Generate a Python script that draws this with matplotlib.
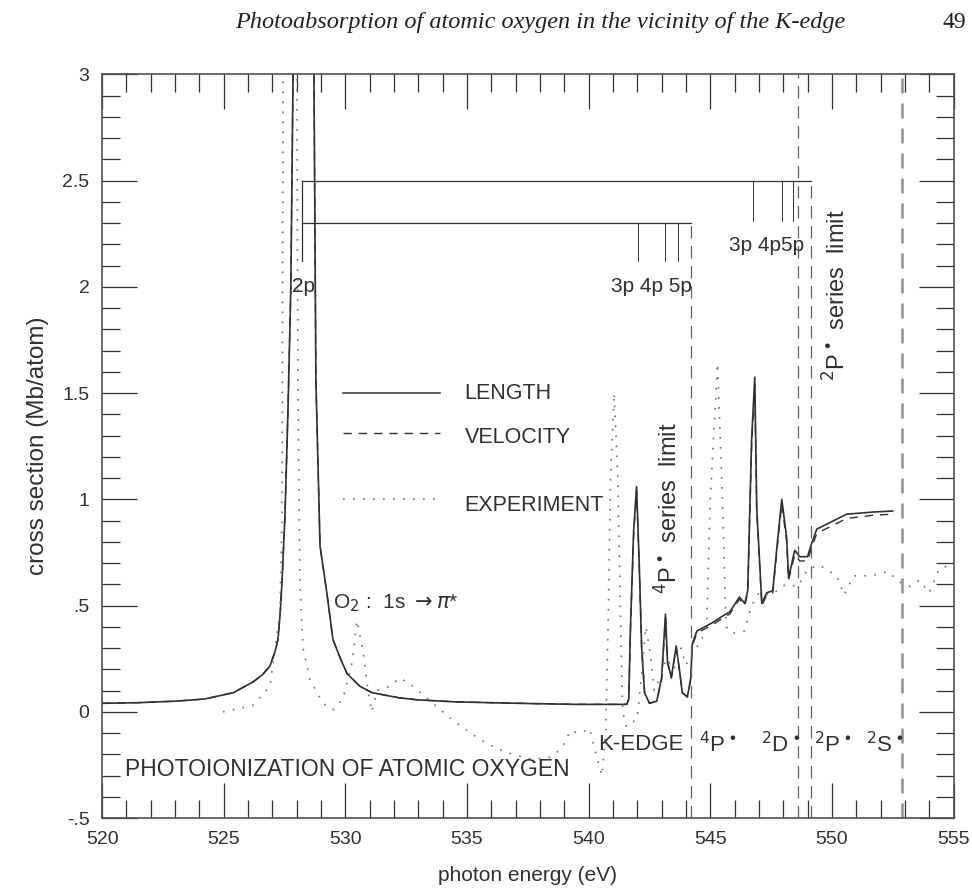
import matplotlib
matplotlib.use('Agg')
import matplotlib.pyplot as plt
from matplotlib.ticker import MultipleLocator

plt.rcParams['font.family'] = ['Liberation Sans', 'DejaVu Sans']
plt.rcParams['mathtext.fontset'] = 'dejavusans'

# theory, length form (energy in eV, cross section in Mb/atom)
length_E = [520.0, 521.5, 523.0, 524.2, 525.4, 526.2, 526.6, 526.9, 527.1, 527.23,
            527.32, 527.40, 527.52, 527.64, 527.76, 527.85, 528.28, 528.71, 528.79,
            528.96, 529.24, 529.49, 529.8, 530.07, 530.6, 531.1, 532.2, 533.0, 534.5,
            536.3, 538.0, 539.5, 541.3, 541.57, 541.65, 541.72, 541.85, 541.97, 542.08,
            542.18, 542.3, 542.5, 542.8, 543.0, 543.16, 543.24, 543.4, 543.6, 543.73,
            543.85, 544.06, 544.2, 544.26, 544.45, 545.1, 545.5, 545.8, 546.2, 546.42,
            546.54, 546.7, 546.83, 546.91, 547.12, 547.32, 547.57, 547.77, 547.94,
            548.14, 548.22, 548.47, 548.68, 549.0, 549.13, 549.38, 549.91, 550.6,
            551.68, 552.5]
length_cs = [0.040, 0.043, 0.050, 0.060, 0.090, 0.140, 0.175, 0.215, 0.280, 0.340,
             0.460, 0.620, 0.930, 1.410, 2.000, 3.000, 9.000, 3.000, 1.560,
             0.780, 0.560, 0.340, 0.250, 0.180, 0.120, 0.090, 0.066, 0.056, 0.047,
             0.042, 0.038, 0.035, 0.035, 0.035, 0.060, 0.400, 0.850, 1.060, 0.700,
             0.300, 0.090, 0.040, 0.050, 0.160, 0.460, 0.240, 0.160, 0.310, 0.200,
             0.090, 0.070, 0.160, 0.320, 0.380, 0.420, 0.450, 0.470, 0.540, 0.510,
             0.570, 1.280, 1.575, 0.960, 0.510, 0.560, 0.570, 0.810, 1.000,
             0.820, 0.630, 0.760, 0.730, 0.730, 0.780, 0.860, 0.890, 0.930,
             0.940, 0.945]

# theory, velocity form
velocity_E = length_E
velocity_cs = [0.040, 0.043, 0.050, 0.060, 0.090, 0.140, 0.175, 0.215, 0.280, 0.340,
               0.460, 0.620, 0.930, 1.410, 2.000, 3.000, 9.000, 3.000, 1.560,
               0.780, 0.560, 0.340, 0.250, 0.180, 0.120, 0.090, 0.066, 0.056, 0.047,
               0.042, 0.038, 0.035, 0.035, 0.035, 0.060, 0.380, 0.830, 1.040, 0.690,
               0.300, 0.090, 0.040, 0.050, 0.150, 0.440, 0.230, 0.160, 0.300, 0.200,
               0.090, 0.070, 0.150, 0.310, 0.370, 0.410, 0.440, 0.460, 0.530, 0.500,
               0.560, 1.250, 1.540, 0.940, 0.500, 0.550, 0.560, 0.790, 0.980,
               0.800, 0.620, 0.740, 0.710, 0.710, 0.760, 0.840, 0.870, 0.910,
               0.925, 0.930]

# experiment
exp_E = [524.97, 526.2, 526.9, 527.31, 527.40, 527.44, 527.72, 528.01, 528.05, 528.13,
         528.26, 528.55, 529.08, 529.49, 529.9, 530.27, 530.48, 530.72, 530.93, 531.09,
         531.3, 531.83, 532.24, 532.78, 533.6, 534.42, 535.4, 535.82, 536.6, 537.5,
         538.3, 538.82, 539.1, 539.23, 539.64, 540.05, 540.3, 540.55, 540.7, 540.8,
         540.9, 541.05, 541.2, 541.32, 541.4, 541.55, 541.8, 542.0, 542.2, 542.35,
         542.5, 542.7, 542.9, 543.2, 543.5, 543.8, 544.0, 544.3, 544.6, 544.85,
         545.0, 545.3, 545.5, 545.65, 545.9, 546.4, 546.7, 547.0, 547.5, 548.1,
         548.6, 549.0, 549.5, 550.2, 550.5, 550.9, 551.6, 552.3, 552.8, 553.2,
         553.6, 554.0, 554.4, 555.0]
exp_cs = [0.00, 0.03, 0.12, 0.47, 0.94, 3.00, 6.00, 3.00, 1.56, 0.62,
          0.30, 0.15, 0.04, 0.01, 0.06, 0.23, 0.43, 0.29, 0.10, 0.00,
          0.10, 0.12, 0.16, 0.12, 0.04, -0.04, -0.12, -0.15, -0.19, -0.22,
          -0.22, -0.18, -0.13, -0.09, -0.10, -0.08, -0.20, -0.30, -0.10, 0.40,
          1.10, 1.50, 1.10, 0.40, 0.00, -0.07, -0.05, -0.03, 0.20, 0.40,
          0.30, 0.10, 0.15, 0.25, 0.20, 0.30, 0.22, 0.28, 0.33, 0.40,
          1.00, 1.64, 1.00, 0.40, 0.37, 0.38, 0.50, 0.56, 0.55, 0.60,
          0.59, 0.67, 0.69, 0.64, 0.55, 0.64, 0.64, 0.66, 0.61, 0.59,
          0.62, 0.56, 0.67, 0.70]

# Rydberg series markers and thresholds
series_start = 528.22
series_4p_limit = 544.22
series_2p_limit = 549.13
series_4p_lines = [542.02, 543.13, 543.66]
series_2p_lines = [546.75, 547.94, 548.39]
thresholds_full = [548.6, 552.87]
state_labels = ['K-EDGE', r'$^4$P$^\bullet$', r'$^2$D$^\bullet$', r'$^2$P$^\bullet$', r'$^2$S$^\bullet$']
state_label_E = [542.15, 545.3, 547.9, 550.05, 552.2]

ink = '#303030'

fig = plt.figure(figsize=(9.72, 8.96), dpi=100)
ax = fig.add_axes([0.105, 0.087, 0.876, 0.830])

ax.plot(length_E, length_cs, color=ink, lw=1.2)
ax.plot(velocity_E, velocity_cs, color=ink, lw=1.0, ls=(0, (6, 5)))
ax.plot(exp_E, exp_cs, color='#707070', lw=1.2, ls=(0, (1, 5)))

# series bars
ax.plot([series_start, series_start], [2.5, 2.12], color=ink, lw=0.9)
ax.plot([series_start, series_2p_limit], [2.5, 2.5], color=ink, lw=0.9)
ax.plot([series_start, series_4p_limit], [2.3, 2.3], color=ink, lw=0.9)
for e in series_4p_lines:
    ax.plot([e, e], [2.3, 2.12], color=ink, lw=0.7)
for e in series_2p_lines:
    ax.plot([e, e], [2.5, 2.31], color=ink, lw=0.7)

# threshold dashed lines
ax.plot([series_4p_limit, series_4p_limit], [-0.5, 2.3], color='#606060', lw=0.9, ls=(0, (10, 6)))
ax.plot([series_2p_limit, series_2p_limit], [-0.5, 2.5], color='#606060', lw=0.9, ls=(0, (10, 6)))
ax.plot([thresholds_full[0]] * 2, [-0.5, 3.0], color='#606060', lw=0.9, ls=(0, (10, 6)))
ax.plot([thresholds_full[1]] * 2, [-0.5, 3.0], color='#909090', lw=1.8, ls=(0, (6, 4)))

ax.set_xlim(520, 555)
ax.set_ylim(-0.5, 3)
ax.xaxis.set_major_locator(MultipleLocator(5))
ax.xaxis.set_minor_locator(MultipleLocator(1))
ax.set_yticks([-0.5, 0, 0.5, 1, 1.5, 2, 2.5, 3])
ax.set_yticklabels(['-.5', '0', '.5', '1', '1.5', '2', '2.5', '3'])
ax.yaxis.set_minor_locator(MultipleLocator(0.1))
ax.tick_params(which='both', direction='in', top=True, right=True, colors=ink,
               labelsize=14, width=0.9)
ax.tick_params(which='major', length=25, pad=9)
ax.tick_params(which='minor', length=13)
for s in ax.spines.values():
    s.set_color('#505050')
    s.set_linewidth(1.2)

ax.set_xlabel('photon energy (eV)', fontsize=15, color=ink, labelpad=13)
ax.set_ylabel('cross section (Mb/atom)', fontsize=17.5, color=ink, labelpad=10)

# legend drawn by hand, as in the original
ax.plot([529.9, 533.9], [1.5, 1.5], color=ink, lw=1.1)
ax.plot([529.9, 533.9], [1.31, 1.31], color=ink, lw=1.0, ls=(0, (6, 5)))
ax.plot([529.9, 533.9], [1.0, 1.0], color='#707070', lw=1.2, ls=(0, (1, 5)))
ax.text(534.9, 1.5, 'LENGTH', fontsize=15.5, color=ink, va='center')
ax.text(534.9, 1.29, 'VELOCITY', fontsize=15.5, color=ink, va='center')
ax.text(534.9, 0.97, 'EXPERIMENT', fontsize=15.5, color=ink, va='center')

ax.text(528.3, 2.0, '2p', fontsize=15, color=ink, ha='center', va='center')
ax.text(542.6, 2.0, '3p 4p 5p', fontsize=15, color=ink, ha='center', va='center')
ax.text(547.3, 2.195, '3p 4p5p', fontsize=15, color=ink, ha='center', va='center')

ax.text(529.5, 0.51, r'O$_2$ :  1s $\rightarrow\pi$*', fontsize=15, color=ink, va='center')
ax.text(520.95, -0.27, 'PHOTOIONIZATION OF ATOMIC OXYGEN', fontsize=16.5, color=ink, va='center')
for lab, e in zip(state_labels, state_label_E):
    ax.text(e, -0.155, lab, fontsize=16, color=ink, ha='center', va='center')

ax.text(543.3, 0.96, r'$^4$P$^\bullet$ series  limit', fontsize=17, color=ink,
        rotation=90, ha='center', va='center')
ax.text(550.2, 1.96, r'$^2$P$^\bullet$ series  limit', fontsize=17, color=ink,
        rotation=90, ha='center', va='center')

fig.text(0.556, 0.975, 'Photoabsorption of atomic oxygen in the vicinity of the K-edge',
         family='Liberation Serif', style='italic', fontsize=17.5, color='#202020',
         ha='center', va='center')
fig.text(0.982, 0.975, '49', family='Liberation Serif', fontsize=17, color='#202020',
         ha='center', va='center')

plt.savefig('out.png', dpi=100)
